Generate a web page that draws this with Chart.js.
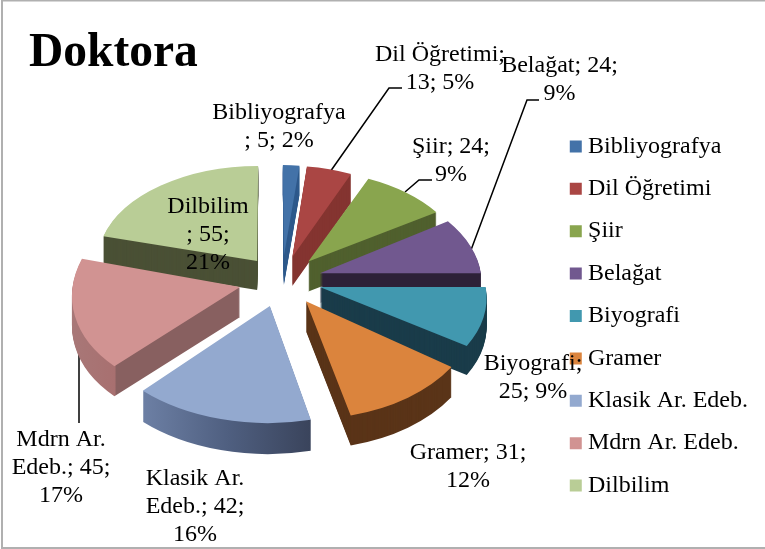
<!DOCTYPE html>
<html><head><meta charset="utf-8">
<style>html,body{margin:0;padding:0;background:#fff}canvas{display:block}</style>
<script src="https://cdn.jsdelivr.net/npm/chart.js@4"></script>
</head><body><canvas id="c" width="765" height="549"></canvas>
<script>
const categories = ['Bibliyografya','Dil Öğretimi','Şiir','Belağat','Biyografi','Gramer','Klasik Ar. Edeb.','Mdrn Ar. Edeb.','Dilbilim'];
const values = [5,13,24,24,25,31,42,45,55];
const titleText = 'Doktora';
const labelLines = [
  ['Bibliyografya','; 5; 2%'],
  ['Dil Öğretimi;','13; 5%'],
  ['Şiir; 24;','9%'],
  ['Belağat; 24;','9%'],
  ['Biyografi;','25; 9%'],
  ['Gramer; 31;','12%'],
  ['Klasik Ar.','Edeb.; 42;','16%'],
  ['Mdrn Ar.','Edeb.; 45;','17%'],
  ['Dilbilim','; 55;','21%']
];
const faceColors = ['#4372a8','#aa4644','#89a54e','#71588f','#4198af','#db843d','#93a9cf','#d19392','#b9cd96'];
const wallColors = ['#2f5a8c','#843430','#50602e','#2e2238','#1a3c4a','#5a3418',null,null,'#4a5035'];
const wallRamps = {6:[[143,'#6d80a5'],[230,'#4f5f80'],[312,'#3a445c']],7:[[72,'#a87878'],[125,'#a87070'],[126,'#886060'],[241,'#886060']]};
const faceRx = [140,148,155.5,161,166,173,182,167.5,159.5];
const faceRy = [91,91,91,96,105,117.5,117,109.5,95];
const faceShear = [1,3,5,13.7,17,4,-2,-14,-1];
const explodeBy = [40,40,41,40,40,43,45,43,40];
const wallDepth = [29,29,30,29,29,30,31,30,29];
const drawOrder = [0,1,2,8,3,7,4,6,5];
const labelPos = [[279,113],[440,55],[451,147],[559.5,66],[533,364],[468,453],[195,479],[61,440],[208,207]];
const labelGap = 27.7;
const leaders = [
  [[402,88],[389,88],[330,172]],
  [[432,180],[419,180],[405,192]],
  [[539,100],[527,100],[471,250]],
  [[79,423],[79,335]]
];
const pieCenter = {x:281.5,y:280};
const tilt = 0.6;
const baseR = 165;

const pie3d = {
  id:'pie3d',
  beforeDatasetsDraw(chart){
    const ctx = chart.ctx, arcs = chart.getDatasetMeta(0).data;
    ctx.save();
    ctx.strokeStyle='#000'; ctx.lineWidth=1.5;
    for(const l of leaders){ ctx.beginPath(); l.forEach((p,k)=>k?ctx.lineTo(p[0],p[1]):ctx.moveTo(p[0],p[1])); ctx.stroke(); }
    ctx.restore();
    for(const i of drawOrder){
      const el = arcs[i], m = (el.startAngle+el.endAngle)/2;
      const ax = pieCenter.x+explodeBy[i]*Math.cos(m), ay = pieCenter.y+explodeBy[i]*tilt*Math.sin(m);
      const R = el.outerRadius, sx = faceRx[i]/R, sy = faceRy[i]/R, sh = faceShear[i]/R;
      const place = dy => { ctx.translate(ax,ay+dy); ctx.transform(sx,0,sh,sy,0,0); ctx.translate(-el.x,-el.y); };
      const saved = el.options;
      let wall = wallColors[i];
      if(wallRamps[i]){
        const r = wallRamps[i], loc = X => el.x+(X-ax)/sx, x0=r[0][0], x1=r[r.length-1][0];
        wall = ctx.createLinearGradient(loc(x0),0,loc(x1),0);
        r.forEach(s=>wall.addColorStop((s[0]-x0)/(x1-x0),s[1]));
      }
      el.options = {backgroundColor:wall,borderColor:wall,borderWidth:0,offset:0,spacing:0,circular:true,borderRadius:0,borderAlign:'center'};
      for(let d=wallDepth[i];d>0;d--){ ctx.save(); place(d); el.draw(ctx); ctx.restore(); }
      el.options = {...el.options,backgroundColor:faceColors[i],borderColor:faceColors[i]};
      ctx.save(); place(0); el.draw(ctx); ctx.restore();
      el.options = saved;
    }
    return false;
  },
  afterDraw(chart){
    const ctx = chart.ctx;
    ctx.save();
    ctx.fillStyle='#000'; ctx.font='24px "Liberation Serif"'; ctx.textAlign='center'; ctx.textBaseline='middle';
    labelLines.forEach((lines,i)=>lines.forEach((t,k)=>ctx.fillText(t,labelPos[i][0],labelPos[i][1]+k*labelGap)));
    ctx.strokeStyle='#b0b0b0'; ctx.lineWidth=2;
    ctx.beginPath(); ctx.moveTo(765,0.5); ctx.lineTo(2,0.5); ctx.lineTo(2,548); ctx.lineTo(765,548); ctx.stroke();
    ctx.restore();
  }
};

new Chart(document.getElementById('c'),{
  type:'pie',
  data:{labels:categories,datasets:[{data:values,backgroundColor:faceColors,borderWidth:0,radius:baseR}]},
  options:{
    responsive:false,animation:false,
    layout:{padding:{left:29,top:19,right:7,bottom:0}},
    plugins:{
      tooltip:{enabled:false},
      title:{display:true,text:titleText,align:'start',color:'#000',padding:{top:6,bottom:1},font:{family:'"Liberation Serif"',size:47.5,weight:'bold',lineHeight:1.2}},
      legend:{position:'right',fullSize:false,labels:{color:'#000',font:{family:'"Liberation Serif"',size:24},usePointStyle:true,pointStyle:'rect',boxWidth:0.5,boxHeight:12,padding:18.4}}
    }
  },
  plugins:[pie3d]
});
</script></body></html>
